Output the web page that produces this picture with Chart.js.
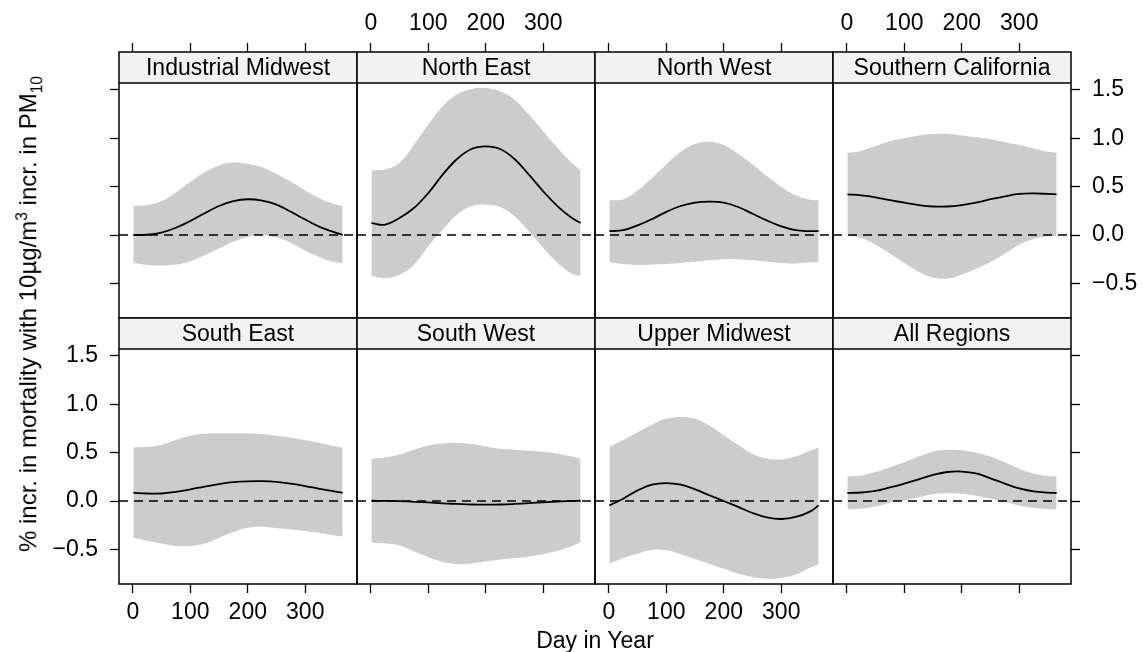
<!DOCTYPE html>
<html><head><meta charset="utf-8">
<script src="https://cdn.jsdelivr.net/npm/chart.js@4.4.1/dist/chart.umd.min.js"></script>
<style>
html,body{margin:0;padding:0;background:#fff;width:1143px;height:652px;overflow:hidden;position:relative;}
canvas{position:absolute;left:0;top:0;}
.lab{position:absolute;font-family:"Liberation Sans",Arial,Helvetica,sans-serif;font-size:23px;color:#000;white-space:nowrap;line-height:1.15;transform:translate(-50%,-50%);}
#ylab{font-size:24px;transform:translate(-50%,-50%) rotate(-90deg);}
sup,sub{font-size:65%;line-height:0;}
</style></head><body>
<div id="wrap"></div>
<div class="lab" id="xlab" style="left:595px;top:640px;">Day in Year</div>
<div class="lab" id="ylab" style="left:28px;top:314px;">% incr. in mortality with 10µg/m<sup>3</sup> incr. in PM<sub>10</sub></div>
<script>
// ---------------- data ----------------
const regions = ["Industrial Midwest","North East","North West","Southern California","South East","South West","Upper Midwest","All Regions"];
const days = [1, 25, 50, 75, 100, 125, 150, 175, 200, 225, 250, 275, 300, 325, 350, 365];
const xTicks = [0, 100, 200, 300];
const yTicks = [-0.5, 0, 0.5, 1, 1.5];
const yTickLabels = ["\u22120.5", "0.0", "0.5", "1.0", "1.5"];
const refValue = 0;

const estIndustrialMidwest  = [0.00, 0.003, 0.025, 0.075, 0.145, 0.225, 0.30, 0.35, 0.37, 0.355, 0.315, 0.24, 0.16, 0.085, 0.03, 0.00];
const lowIndustrialMidwest  = [-0.29, -0.31, -0.315, -0.305, -0.27, -0.21, -0.14, -0.07, -0.02, 0.00, -0.025, -0.08, -0.16, -0.23, -0.28, -0.29];
const highIndustrialMidwest = [0.30, 0.31, 0.35, 0.44, 0.55, 0.65, 0.72, 0.75, 0.735, 0.70, 0.63, 0.55, 0.46, 0.38, 0.32, 0.30];

const estNorthEast  = [0.124, 0.107, 0.176, 0.279, 0.434, 0.624, 0.786, 0.89, 0.917, 0.89, 0.786, 0.624, 0.452, 0.297, 0.176, 0.124];
const lowNorthEast  = [-0.42, -0.445, -0.41, -0.307, -0.117, 0.055, 0.21, 0.297, 0.314, 0.29, 0.193, 0.038, -0.134, -0.29, -0.40, -0.42];
const highNorthEast = [0.669, 0.68, 0.745, 0.934, 1.141, 1.331, 1.452, 1.51, 1.52, 1.486, 1.40, 1.245, 1.072, 0.90, 0.745, 0.669];

const estNorthWest  = [0.04, 0.05, 0.10, 0.165, 0.24, 0.30, 0.335, 0.345, 0.335, 0.29, 0.22, 0.15, 0.09, 0.05, 0.04, 0.04];
const lowNorthWest  = [-0.28, -0.30, -0.31, -0.305, -0.30, -0.29, -0.275, -0.26, -0.25, -0.25, -0.26, -0.275, -0.29, -0.295, -0.285, -0.28];
const highNorthWest = [0.36, 0.37, 0.46, 0.59, 0.73, 0.86, 0.94, 0.965, 0.93, 0.84, 0.73, 0.61, 0.50, 0.41, 0.365, 0.36];

const estSouthernCalifornia  = [0.42, 0.41, 0.39, 0.36, 0.335, 0.31, 0.295, 0.295, 0.31, 0.335, 0.37, 0.40, 0.425, 0.43, 0.425, 0.42];
const lowSouthernCalifornia  = [-0.01, -0.03, -0.10, -0.19, -0.29, -0.38, -0.44, -0.45, -0.41, -0.35, -0.28, -0.19, -0.10, -0.04, -0.01, -0.01];
const highSouthernCalifornia = [0.85, 0.87, 0.92, 0.97, 1.00, 1.03, 1.045, 1.045, 1.03, 1.01, 0.99, 0.96, 0.93, 0.895, 0.86, 0.85];

const estSouthEast  = [0.086, 0.078, 0.078, 0.095, 0.12, 0.15, 0.175, 0.195, 0.204, 0.205, 0.198, 0.18, 0.155, 0.125, 0.10, 0.086];
const lowSouthEast  = [-0.38, -0.41, -0.44, -0.465, -0.465, -0.44, -0.38, -0.32, -0.276, -0.265, -0.28, -0.295, -0.31, -0.33, -0.355, -0.37];
const highSouthEast = [0.553, 0.56, 0.58, 0.63, 0.675, 0.695, 0.70, 0.70, 0.70, 0.69, 0.675, 0.655, 0.63, 0.60, 0.57, 0.553];

const estSouthWest  = [0.003, 0.002, 0.0, -0.008, -0.015, -0.024, -0.03, -0.036, -0.038, -0.036, -0.03, -0.022, -0.013, -0.005, 0.0, 0.003];
const lowSouthWest  = [-0.43, -0.44, -0.46, -0.52, -0.58, -0.63, -0.65, -0.645, -0.625, -0.605, -0.59, -0.575, -0.55, -0.515, -0.465, -0.43];
const highSouthWest = [0.44, 0.45, 0.48, 0.53, 0.575, 0.595, 0.60, 0.59, 0.565, 0.54, 0.53, 0.52, 0.51, 0.49, 0.46, 0.44];

const estUpperMidwest  = [-0.045, 0.024, 0.11, 0.17, 0.186, 0.17, 0.12, 0.06, 0.0, -0.06, -0.124, -0.17, -0.186, -0.165, -0.11, -0.045];
const lowUpperMidwest  = [-0.65, -0.59, -0.545, -0.505, -0.51, -0.55, -0.60, -0.65, -0.70, -0.75, -0.786, -0.805, -0.795, -0.76, -0.69, -0.655];
const highUpperMidwest = [0.56, 0.63, 0.71, 0.79, 0.85, 0.87, 0.85, 0.78, 0.68, 0.58, 0.49, 0.44, 0.43, 0.46, 0.52, 0.55];

const estAllRegions  = [0.083, 0.088, 0.104, 0.14, 0.18, 0.225, 0.27, 0.30, 0.305, 0.285, 0.235, 0.18, 0.13, 0.10, 0.087, 0.083];
const lowAllRegions  = [-0.086, -0.08, -0.055, -0.02, 0.007, 0.04, 0.07, 0.08, 0.076, 0.055, 0.024, -0.01, -0.045, -0.07, -0.083, -0.086];
const highAllRegions = [0.256, 0.265, 0.30, 0.35, 0.40, 0.46, 0.51, 0.53, 0.525, 0.50, 0.46, 0.40, 0.335, 0.285, 0.26, 0.256];

const estimates = [estIndustrialMidwest, estNorthEast, estNorthWest, estSouthernCalifornia, estSouthEast, estSouthWest, estUpperMidwest, estAllRegions];
const lows = [lowIndustrialMidwest, lowNorthEast, lowNorthWest, lowSouthernCalifornia, lowSouthEast, lowSouthWest, lowUpperMidwest, lowAllRegions];
const highs = [highIndustrialMidwest, highNorthEast, highNorthWest, highSouthernCalifornia, highSouthEast, highSouthWest, highUpperMidwest, highAllRegions];

// ---------------- layout ----------------
const W = 1143, H = 652;
const colLeft = [119, 357, 595, 833];
const colW = 238;
const rowTop = [83, 349];
const panelH = 235;
const stripH = 31;
const X_MIN = -24, X_MAX = 390, Y_MIN = -0.858, Y_MAX = 1.572;
const FONT = '"Liberation Sans", Arial, Helvetica, sans-serif';
const FS = 23;
const TICK = 9;
const BAND = '#cccccc';

const toPts = arr => days.map((d, k) => ({x: d, y: arr[k]}));

function makeChart(i) {
  const r = Math.floor(i / 4), c = i % 4;
  const canvas = document.createElement('canvas');
  canvas.width = W; canvas.height = H;
  document.getElementById('wrap').appendChild(canvas);
  const left = colLeft[c], top = rowTop[r], right = left + colW, bottom = top + panelH;
  const xAxH = r === 0 ? 80 : 60;
  const yAxW = 70;
  const hasLeftY = (c === 0), hasRightY = (c === 3);
  const hasY = hasLeftY || hasRightY;
  const showXLabels = r === 0 ? (c % 2 === 1) : (c % 2 === 0);
  const showYLabels = (r === 1 && c === 0) || (r === 0 && c === 3);
  const padding = {
    left: hasLeftY ? left - yAxW : left,
    right: hasRightY ? W - right - yAxW : W - right,
    top: r === 0 ? top - xAxH : top,
    bottom: r === 1 ? H - bottom - xAxH : H - bottom
  };
  const title = regions[i];
  const panelPlugin = {
    id: 'panel' + i,
    afterDatasetsDraw(chart) {
      const {ctx, chartArea: a, scales} = chart;
      const y0 = scales.y.getPixelForValue(refValue);
      ctx.save();
      ctx.beginPath(); ctx.rect(a.left, a.top, a.right - a.left, a.bottom - a.top); ctx.clip();
      ctx.setLineDash([9, 6]);
      ctx.strokeStyle = '#000'; ctx.lineWidth = 1.4;
      ctx.beginPath(); ctx.moveTo(a.left, y0); ctx.lineTo(a.right, y0); ctx.stroke();
      ctx.restore();
    },
    afterDraw(chart) {
      const {ctx, chartArea: a} = chart;
      ctx.save();
      ctx.fillStyle = '#f2f2f2';
      ctx.fillRect(a.left, a.top - stripH, a.right - a.left, stripH);
      ctx.strokeStyle = '#000'; ctx.lineWidth = 1.5;
      ctx.strokeRect(a.left, a.top - stripH, a.right - a.left, stripH + (a.bottom - a.top));
      ctx.beginPath(); ctx.moveTo(a.left, a.top); ctx.lineTo(a.right, a.top); ctx.stroke();
      ctx.fillStyle = '#000';
      ctx.font = FS + 'px ' + FONT;
      ctx.textAlign = 'center'; ctx.textBaseline = 'middle';
      ctx.fillText(title, (a.left + a.right) / 2, a.top - stripH / 2 + 1);
      ctx.restore();
    }
  };
  new Chart(canvas, {
    type: 'line',
    data: {
      datasets: [
        {label: 'upper', data: toPts(highs[i]), order: 2, borderColor: 'rgba(0,0,0,0)', borderWidth: 0, backgroundColor: BAND, fill: '+1', pointRadius: 0, tension: 0.4},
        {label: 'lower', data: toPts(lows[i]), order: 3, borderColor: 'rgba(0,0,0,0)', borderWidth: 0, backgroundColor: BAND, fill: false, pointRadius: 0, tension: 0.4},
        {label: 'estimate', data: toPts(estimates[i]), order: 0, borderColor: '#000', borderWidth: 1.8, fill: false, pointRadius: 0, tension: 0.4}
      ]
    },
    options: {
      responsive: false, animation: false, devicePixelRatio: 1,
      layout: {padding},
      plugins: {legend: {display: false}, tooltip: {enabled: false}, title: {display: false}},
      scales: {
        x: {
          type: 'linear', position: r === 0 ? 'top' : 'bottom', min: X_MIN, max: X_MAX,
          afterBuildTicks: s => { s.ticks = xTicks.map(v => ({value: v})); },
          afterFit: s => { s.height = xAxH; },
          grid: {drawOnChartArea: false, drawTicks: true, tickLength: r === 0 ? stripH + TICK : TICK, tickColor: '#000', tickWidth: 1.3},
          border: {display: false},
          ticks: {autoSkip: false, maxRotation: 0, minRotation: 0, padding: 6, color: '#000', font: {family: FONT, size: FS},
                  callback: v => showXLabels ? String(v) : ''}
        },
        y: {
          type: 'linear', display: hasY, position: hasRightY ? 'right' : 'left', min: Y_MIN, max: Y_MAX,
          afterBuildTicks: s => { s.ticks = yTicks.map(v => ({value: v})); },
          afterFit: s => { s.width = hasY ? yAxW : 0; },
          grid: {drawOnChartArea: false, drawTicks: true, tickLength: TICK, tickColor: '#000', tickWidth: 1.3},
          border: {display: false},
          ticks: {autoSkip: false, padding: 12, color: '#000', font: {family: FONT, size: FS},
                  callback: v => showYLabels ? yTickLabels[yTicks.indexOf(v)] : ''}
        }
      }
    },
    plugins: [panelPlugin]
  });
}
for (let i = 0; i < 8; i++) makeChart(i);
</script>
</body></html>
